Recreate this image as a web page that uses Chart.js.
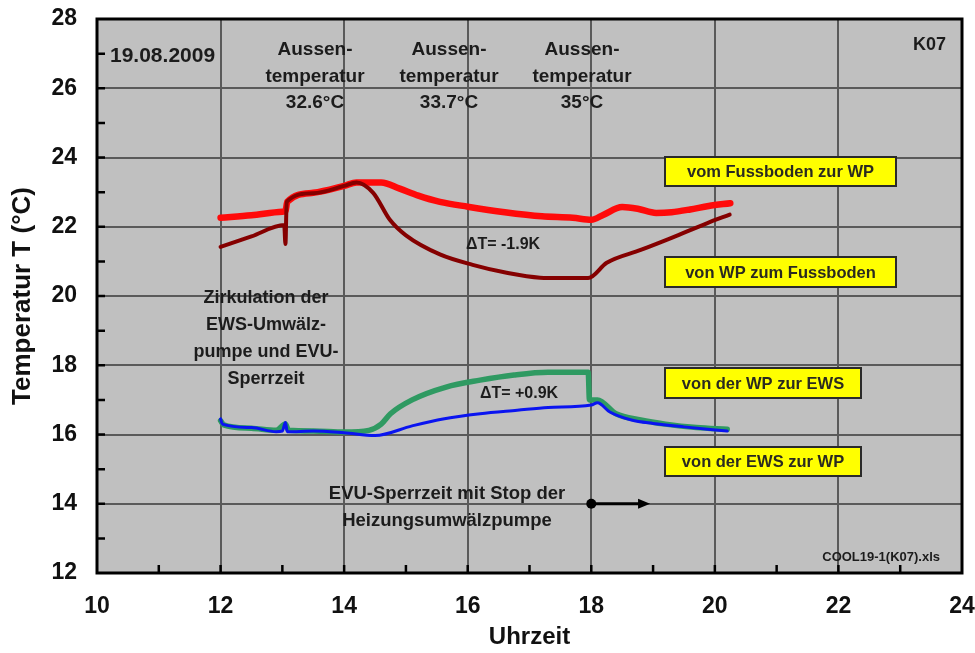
<!DOCTYPE html>
<html><head><meta charset="utf-8">
<script src="https://cdn.jsdelivr.net/npm/chart.js@4.4.0/dist/chart.umd.min.js"></script>
<style>html,body{margin:0;padding:0;background:#fff;}#wrap{width:975px;height:653px;}</style>
</head><body><div id="wrap"><canvas id="c" width="975" height="653"></canvas></div>
<script>
// ---- data ----
const xTicks = [10, 12, 14, 16, 18, 20, 22, 24];
const yTicks = [12, 14, 16, 18, 20, 22, 24, 26, 28];

const redTime = [12.0, 12.5, 13.0, 13.05, 13.08, 13.5, 14.0, 14.2, 14.6, 14.9, 15.2, 15.55, 16.0, 16.6, 17.2, 17.7, 18.0, 18.2, 18.5, 18.75, 19.05, 19.3, 19.6, 19.9, 20.25];
const redTemp = [22.26, 22.33, 22.43, 22.45, 22.72, 22.98, 23.18, 23.28, 23.28, 23.1, 22.9, 22.72, 22.58, 22.42, 22.3, 22.26, 22.2, 22.35, 22.57, 22.52, 22.4, 22.42, 22.5, 22.6, 22.68];

const darkTime = [12.0, 12.5, 13.03, 13.05, 13.07, 13.5, 14.0, 14.2, 14.47, 14.74, 15.0, 15.55, 16.08, 16.63, 17.17, 17.5, 17.95, 18.25, 18.8, 19.3, 19.87, 20.24];
const darkTemp = [21.42, 21.72, 22.05, 21.5, 22.72, 22.97, 23.18, 23.28, 22.98, 22.2, 21.75, 21.2, 20.9, 20.67, 20.53, 20.52, 20.52, 20.96, 21.33, 21.68, 22.1, 22.35];

const greenTime = [12.0, 12.05, 12.5, 12.9, 13.05, 13.1, 13.5, 14.0, 14.4, 14.6, 14.75, 15.1, 15.65, 16.2, 16.75, 17.3, 17.95, 17.97, 18.1, 18.4, 18.8, 19.2, 19.7, 20.2];
const greenTemp = [16.4, 16.28, 16.18, 16.12, 16.3, 16.12, 16.1, 16.07, 16.12, 16.3, 16.6, 17.0, 17.37, 17.57, 17.72, 17.8, 17.8, 17.0, 17.0, 16.6, 16.42, 16.3, 16.2, 16.15];

const blueTime = [12.0, 12.03, 12.5, 12.9, 13.0, 13.05, 13.08, 13.5, 14.0, 14.5, 15.1, 15.6, 16.2, 16.8, 17.3, 18.0, 18.1, 18.3, 18.65, 19.0, 19.5, 20.2];
const blueTemp = [16.45, 16.3, 16.2, 16.08, 16.1, 16.35, 16.08, 16.1, 16.05, 15.97, 16.25, 16.45, 16.6, 16.7, 16.78, 16.85, 16.92, 16.65, 16.42, 16.32, 16.22, 16.1];

const arrowFrom = [18, 14];
const arrowTo = [19, 14];

const legendLabels = ['vom Fussboden zur WP', 'von WP zum Fussboden', 'von der WP zur EWS', 'von der EWS zur WP'];

// ---- build ----
const zip = (xs, ys) => xs.map((x, i) => ({x: x, y: ys[i]}));
const FONT = '"Liberation Sans", Arial, sans-serif';

function txt(ctx, s, x, y, size, align) {
  ctx.font = 'bold ' + size + 'px ' + FONT;
  ctx.textAlign = align || 'center';
  ctx.textBaseline = 'middle';
  ctx.fillText(s, x, y);
}

const overlay = {
  id: 'overlay',
  beforeDraw(chart) {
    const {ctx, chartArea: a} = chart;
    ctx.save();
    ctx.fillStyle = '#ffffff';
    ctx.fillRect(0, 0, chart.width, chart.height);
    ctx.fillStyle = '#c0c0c0';
    ctx.fillRect(a.left, a.top, a.right - a.left, a.bottom - a.top);
    ctx.restore();
  },
  afterDatasetsDraw(chart) {
    const {ctx, chartArea: a} = chart;
    const xs = chart.scales.x, ys = chart.scales.y;
    ctx.save();
    // frame
    ctx.strokeStyle = '#000';
    ctx.lineWidth = 3;
    ctx.strokeRect(a.left, a.top, a.right - a.left, a.bottom - a.top);
    // inward ticks
    ctx.lineWidth = 2.5;
    ctx.beginPath();
    for (let v = 11; v < 24; v++) {
      const px = xs.getPixelForValue(v);
      ctx.moveTo(px, a.bottom); ctx.lineTo(px, a.bottom - 8);
    }
    for (let v = 13; v < 28; v++) {
      const py = ys.getPixelForValue(v);
      ctx.moveTo(a.left, py); ctx.lineTo(a.left + 8, py);
    }
    ctx.stroke();

    // annotations
    ctx.fillStyle = '#1c1c1c';
    txt(ctx, '19.08.2009', 110, 56, 21, 'left');
    const aus = [[315, '32.6°C'], [449, '33.7°C'], [582, '35°C']];
    aus.forEach(([cx, t]) => {
      txt(ctx, 'Aussen-', cx, 50, 19);
      txt(ctx, 'temperatur', cx, 77, 19);
      txt(ctx, t, cx, 103, 19);
    });
    txt(ctx, 'K07', 946, 45, 18, 'right');
    txt(ctx, '\u0394T= -1.9K', 503, 245, 16);
    txt(ctx, '\u0394T= +0.9K', 519, 394, 16);
    ['Zirkulation der', 'EWS-Umwälz-', 'pumpe und EVU-', 'Sperrzeit'].forEach((s, i) => {
      txt(ctx, s, 266, 298 + i * 27, 18);
    });
    txt(ctx, 'EVU-Sperrzeit mit Stop der', 447, 494, 18.5);
    txt(ctx, 'Heizungsumwälzpumpe', 447, 521, 18.5);
    txt(ctx, 'COOL19-1(K07).xls', 940, 557, 13, 'right');

    // arrow
    const x0 = xs.getPixelForValue(arrowFrom[0]), y0 = ys.getPixelForValue(arrowFrom[1]);
    const x1 = xs.getPixelForValue(arrowTo[0]), y1 = ys.getPixelForValue(arrowTo[1]);
    ctx.strokeStyle = '#000'; ctx.fillStyle = '#000';
    ctx.lineWidth = 3;
    ctx.beginPath(); ctx.moveTo(x0, y0); ctx.lineTo(x1 - 12, y1); ctx.stroke();
    ctx.beginPath(); ctx.moveTo(x1 - 3, y1); ctx.lineTo(x1 - 15, y1 - 5); ctx.lineTo(x1 - 15, y1 + 5); ctx.closePath(); ctx.fill();
    ctx.beginPath(); ctx.arc(x0, y0, 5, 0, Math.PI * 2); ctx.fill();

    // legend boxes
    const boxes = [[665, 157, 231, 29], [665, 257, 231, 30], [665, 368, 196, 30], [665, 447, 196, 29]];
    boxes.forEach((b, i) => {
      ctx.fillStyle = '#ffff00';
      ctx.fillRect(b[0], b[1], b[2], b[3]);
      ctx.strokeStyle = '#2a2a2a';
      ctx.lineWidth = 2;
      ctx.strokeRect(b[0], b[1], b[2], b[3]);
      ctx.fillStyle = '#2a2a20';
      txt(ctx, legendLabels[i], b[0] + b[2] / 2, b[1] + b[3] / 2 + 1, 16.5);
    });
    ctx.restore();
  }
};

const ds = (label, t, v, color, w, order) => ({
  label: label, data: zip(t, v), borderColor: color, backgroundColor: color,
  borderWidth: w, pointRadius: 0, fill: false, cubicInterpolationMode: 'monotone',
  order: order, borderCapStyle: 'round', borderJoinStyle: 'round'
});

const noPad = s => { s.paddingLeft = 0; s.paddingRight = 0; s.paddingTop = 0; s.paddingBottom = 0; };

new Chart(document.getElementById('c'), {
  type: 'line',
  data: {
    datasets: [
      ds(legendLabels[0], redTime, redTemp, '#ff0a0a', 6.5, 4),
      ds(legendLabels[1], darkTime, darkTemp, '#850000', 4, 3),
      ds(legendLabels[2], greenTime, greenTemp, '#2f9a62', 5.5, 2),
      ds(legendLabels[3], blueTime, blueTemp, '#0a14f0', 3, 1)
    ]
  },
  options: {
    responsive: false,
    devicePixelRatio: 1,
    animation: false,
    layout: {padding: {top: 19, right: 13, left: 0, bottom: 0}},
    plugins: {legend: {display: false}, tooltip: {enabled: false}, title: {display: false}},
    scales: {
      x: {
        type: 'linear', min: 10, max: 24,
        afterBuildTicks: s => { s.ticks = xTicks.map(v => ({value: v})); },
        afterFit: s => { s.height = 80; noPad(s); },
        grid: {color: '#5a5a5a', lineWidth: 2, drawTicks: false},
        border: {display: false},
        ticks: {padding: 20, color: '#111', font: {family: FONT, size: 23, weight: 'bold'}},
        title: {display: true, text: 'Uhrzeit', color: '#111', padding: {top: 0, bottom: 1}, font: {family: FONT, size: 24, weight: 'bold'}}
      },
      y: {
        type: 'linear', min: 12, max: 28,
        afterBuildTicks: s => { s.ticks = yTicks.map(v => ({value: v})); },
        afterFit: s => { s.width = 97; noPad(s); },
        grid: {color: '#5a5a5a', lineWidth: 2, drawTicks: false},
        border: {display: false},
        ticks: {padding: 20, color: '#111', font: {family: FONT, size: 23, weight: 'bold'}},
        title: {display: true, text: 'Temperatur T (°C)', color: '#111', padding: {top: 7, bottom: 0}, font: {family: FONT, size: 26, weight: 'bold'}}
      }
    }
  },
  plugins: [overlay]
});
</script>
</body></html>
